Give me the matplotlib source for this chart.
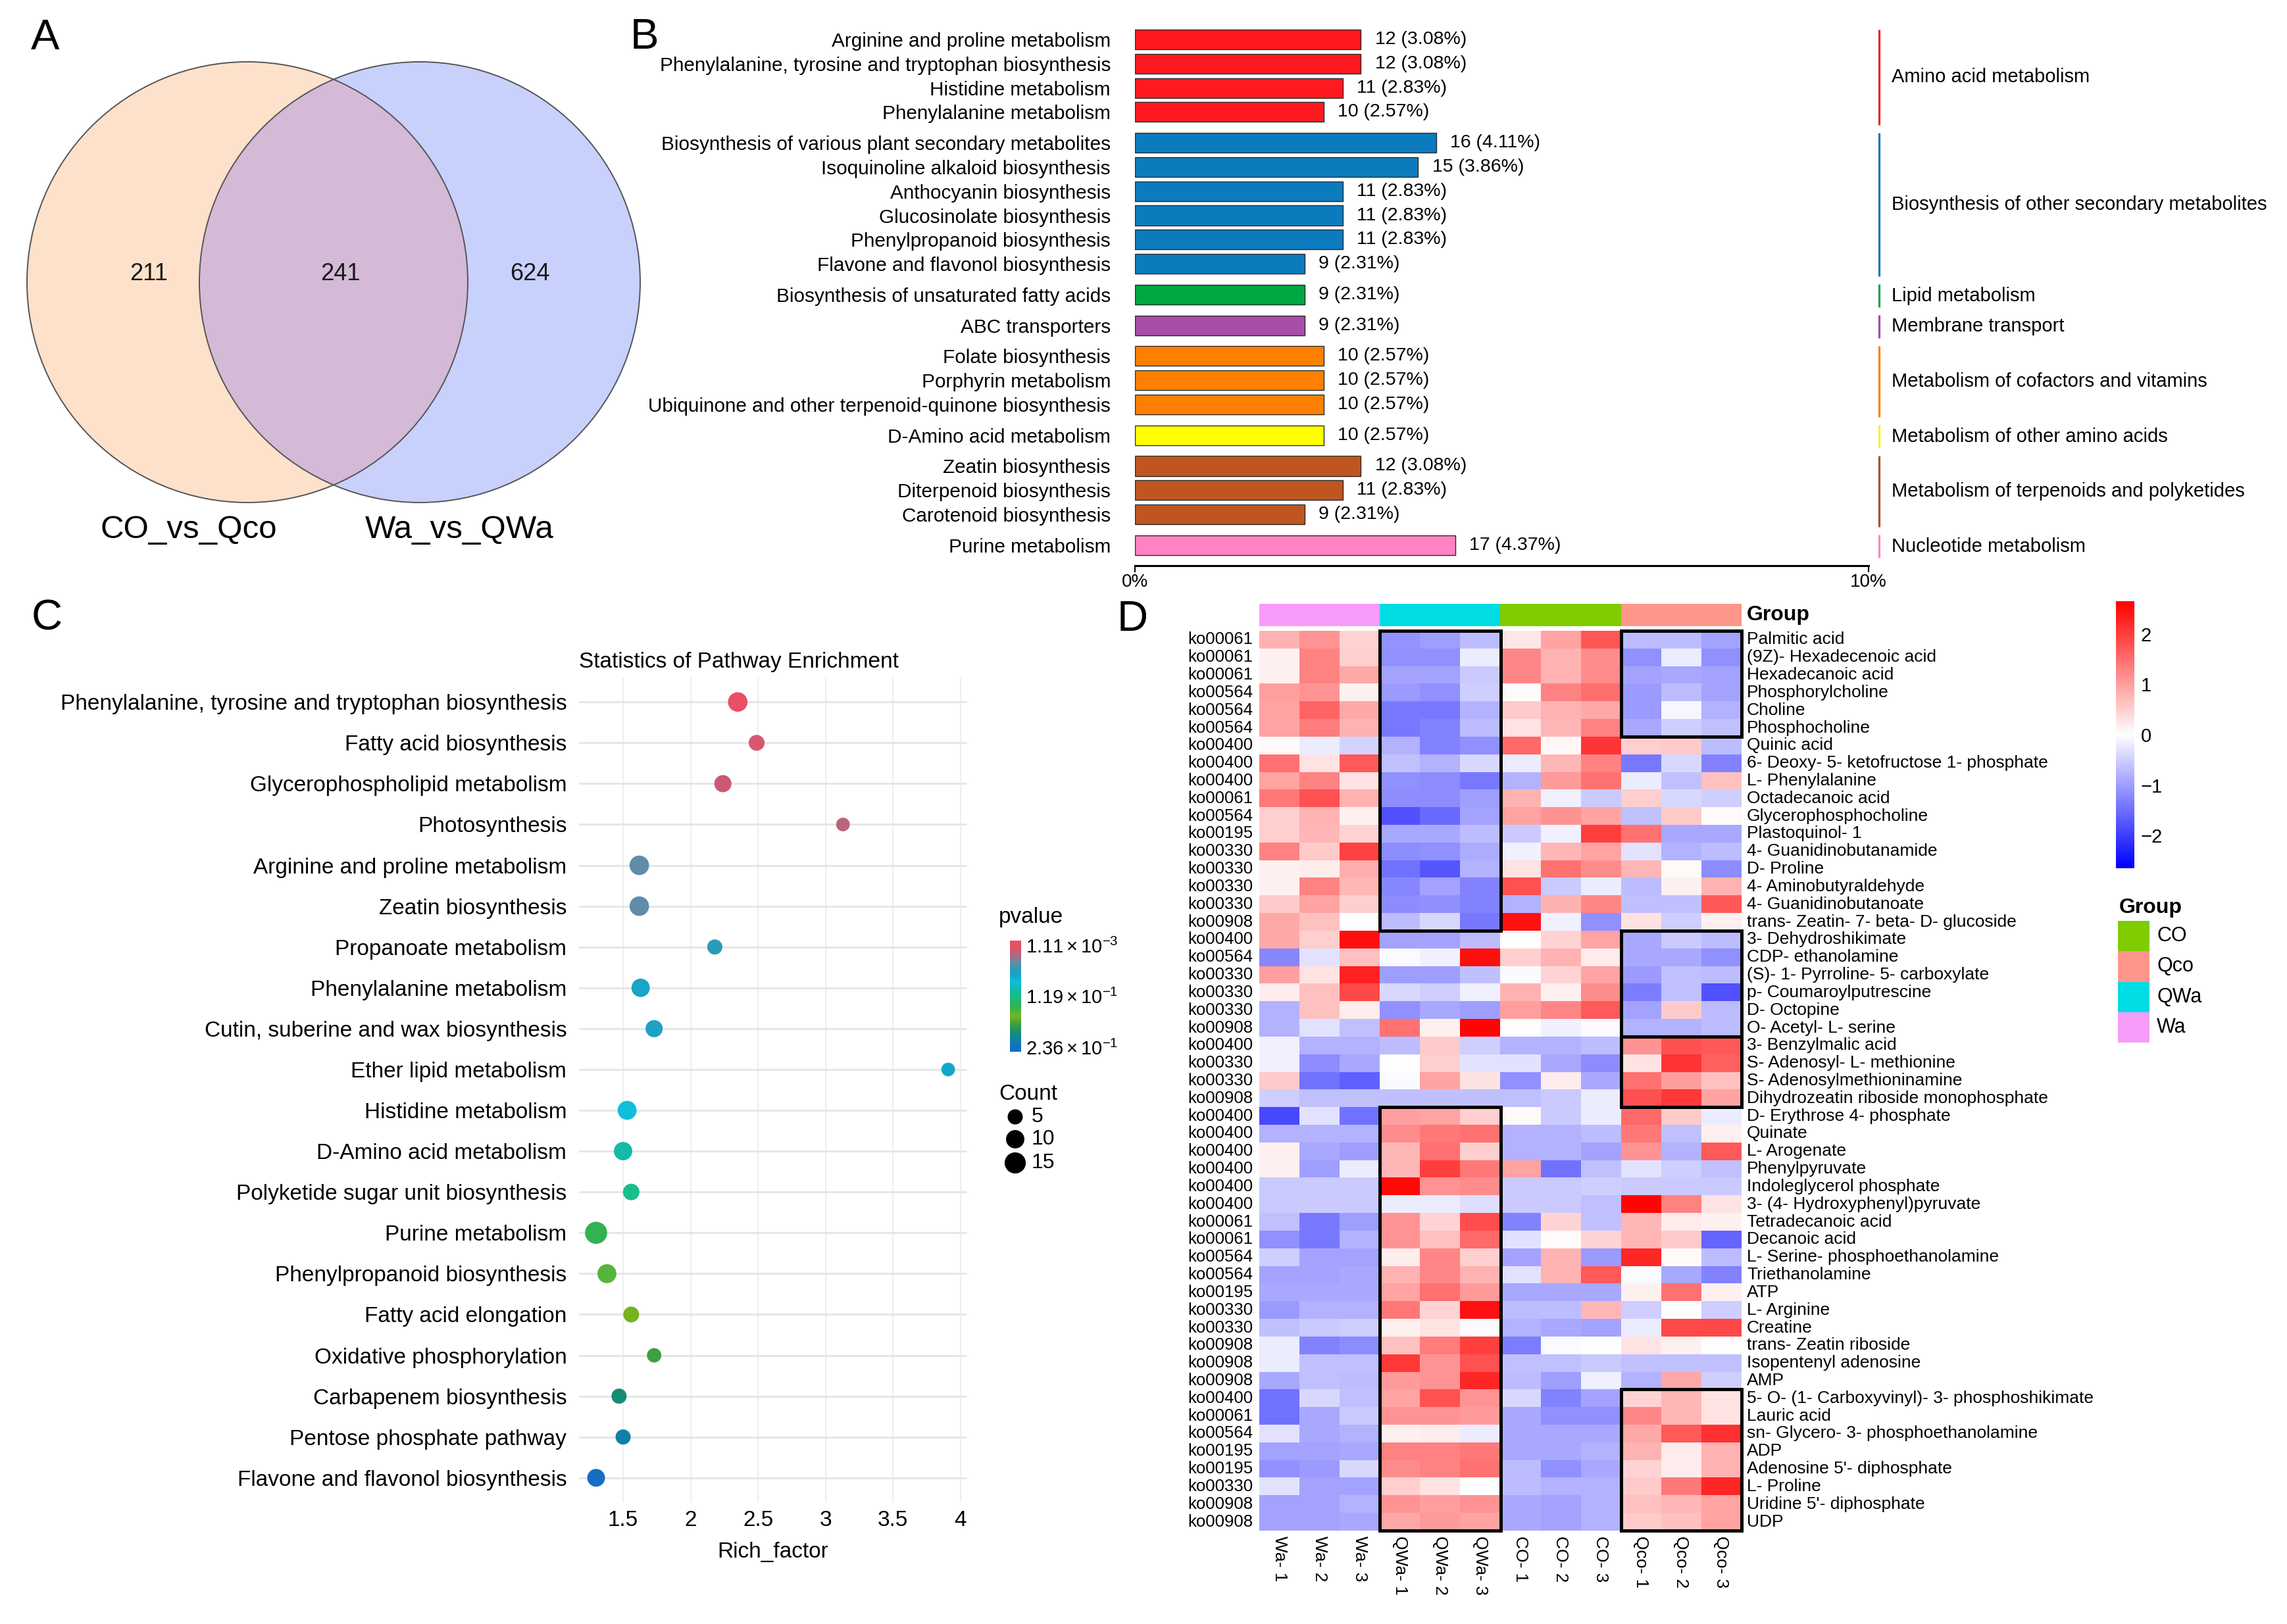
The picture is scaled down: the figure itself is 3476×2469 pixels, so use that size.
import numpy as np
import matplotlib
matplotlib.use("Agg")
import matplotlib.pyplot as plt
from matplotlib.patches import Circle, Rectangle
from matplotlib.colors import LinearSegmentedColormap, Normalize, to_rgb

plt.rcParams['font.family'] = ['Liberation Sans', 'DejaVu Sans']
plt.rcParams['mathtext.fontset'] = 'custom'
plt.rcParams['mathtext.rm'] = 'Liberation Sans'
plt.rcParams['mathtext.it'] = 'Liberation Sans:italic'
plt.rcParams['mathtext.bf'] = 'Liberation Sans:bold'

# ------------------------------------------------------------------ data
venn_sets = ["CO_vs_Qco", "Wa_vs_QWa"]
venn_counts = [211, 241, 624]  # only left, shared, only right

kegg_pathways = [
    "Arginine and proline metabolism",
    "Phenylalanine, tyrosine and tryptophan biosynthesis",
    "Histidine metabolism",
    "Phenylalanine metabolism",
    "Biosynthesis of various plant secondary metabolites",
    "Isoquinoline alkaloid biosynthesis",
    "Anthocyanin biosynthesis",
    "Glucosinolate biosynthesis",
    "Phenylpropanoid biosynthesis",
    "Flavone and flavonol biosynthesis",
    "Biosynthesis of unsaturated fatty acids",
    "ABC transporters",
    "Folate biosynthesis",
    "Porphyrin metabolism",
    "Ubiquinone and other terpenoid-quinone biosynthesis",
    "D-Amino acid metabolism",
    "Zeatin biosynthesis",
    "Diterpenoid biosynthesis",
    "Carotenoid biosynthesis",
    "Purine metabolism",
]
kegg_counts = [12, 12, 11, 10, 16, 15, 11, 11, 11, 9, 9, 9, 10, 10, 10, 10, 12, 11, 9, 17]
kegg_percent = [3.08, 3.08, 2.83, 2.57, 4.11, 3.86, 2.83, 2.83, 2.83, 2.31, 2.31, 2.31,
                2.57, 2.57, 2.57, 2.57, 3.08, 2.83, 2.31, 4.37]
kegg_classes = [
    "Amino acid metabolism",
    "Biosynthesis of other secondary metabolites",
    "Lipid metabolism",
    "Membrane transport",
    "Metabolism of cofactors and vitamins",
    "Metabolism of other amino acids",
    "Metabolism of terpenoids and polyketides",
    "Nucleotide metabolism",
]
kegg_class_sizes = [4, 6, 1, 1, 3, 1, 3, 1]

enrich_pathways = [
    "Phenylalanine, tyrosine and tryptophan biosynthesis",
    "Fatty acid biosynthesis",
    "Glycerophospholipid metabolism",
    "Photosynthesis",
    "Arginine and proline metabolism",
    "Zeatin biosynthesis",
    "Propanoate metabolism",
    "Phenylalanine metabolism",
    "Cutin, suberine and wax biosynthesis",
    "Ether lipid metabolism",
    "Histidine metabolism",
    "D-Amino acid metabolism",
    "Polyketide sugar unit biosynthesis",
    "Purine metabolism",
    "Phenylpropanoid biosynthesis",
    "Fatty acid elongation",
    "Oxidative phosphorylation",
    "Carbapenem biosynthesis",
    "Pentose phosphate pathway",
    "Flavone and flavonol biosynthesis",
]
enrich_rich = [2.35, 2.49, 2.24, 3.13, 1.62, 1.62, 2.18, 1.63, 1.73, 3.91,
               1.53, 1.50, 1.56, 1.30, 1.38, 1.56, 1.73, 1.47, 1.50, 1.30]
enrich_count = [12, 6, 8, 3, 12, 12, 5, 10, 8, 3, 11, 10, 7, 17, 11, 6, 4, 5, 5, 9]
enrich_pvalue = [0.00111, 0.0082, 0.0129, 0.0223, 0.0410, 0.0410, 0.0598, 0.0692, 0.0669, 0.0716,
                 0.0833, 0.1021, 0.1186, 0.1420, 0.1561, 0.1655, 0.1820, 0.2055, 0.2196, 0.236]

heat_samples = ["Wa- 1", "Wa- 2", "Wa- 3", "QWa- 1", "QWa- 2", "QWa- 3",
                "CO- 1", "CO- 2", "CO- 3", "Qco- 1", "Qco- 2", "Qco- 3"]
heat_groups = ["Wa"] * 3 + ["QWa"] * 3 + ["CO"] * 3 + ["Qco"] * 3
heat_ko = ["ko00061", "ko00061", "ko00061", "ko00564", "ko00564", "ko00564", "ko00400", "ko00400",
           "ko00400", "ko00061", "ko00564", "ko00195", "ko00330", "ko00330", "ko00330", "ko00330",
           "ko00908", "ko00400", "ko00564", "ko00330", "ko00330", "ko00330", "ko00908", "ko00400",
           "ko00330", "ko00330", "ko00908", "ko00400", "ko00400", "ko00400", "ko00400", "ko00400",
           "ko00400", "ko00061", "ko00061", "ko00564", "ko00564", "ko00195", "ko00330", "ko00330",
           "ko00908", "ko00908", "ko00908", "ko00400", "ko00061", "ko00564", "ko00195", "ko00195",
           "ko00330", "ko00908", "ko00908"]
heat_metabolites = [
    "Palmitic acid", "(9Z)- Hexadecenoic acid", "Hexadecanoic acid", "Phosphorylcholine",
    "Choline", "Phosphocholine", "Quinic acid", "6- Deoxy- 5- ketofructose 1- phosphate",
    "L- Phenylalanine", "Octadecanoic acid", "Glycerophosphocholine", "Plastoquinol- 1",
    "4- Guanidinobutanamide", "D- Proline", "4- Aminobutyraldehyde", "4- Guanidinobutanoate",
    "trans- Zeatin- 7- beta- D- glucoside", "3- Dehydroshikimate", "CDP- ethanolamine",
    "(S)- 1- Pyrroline- 5- carboxylate", "p- Coumaroylputrescine", "D- Octopine",
    "O- Acetyl- L- serine", "3- Benzylmalic acid", "S- Adenosyl- L- methionine",
    "S- Adenosylmethioninamine", "Dihydrozeatin riboside monophosphate", "D- Erythrose 4- phosphate",
    "Quinate", "L- Arogenate", "Phenylpyruvate", "Indoleglycerol phosphate",
    "3- (4- Hydroxyphenyl)pyruvate", "Tetradecanoic acid", "Decanoic acid",
    "L- Serine- phosphoethanolamine", "Triethanolamine", "ATP", "L- Arginine", "Creatine",
    "trans- Zeatin riboside", "Isopentenyl adenosine", "AMP",
    "5- O- (1- Carboxyvinyl)- 3- phosphoshikimate", "Lauric acid",
    "sn- Glycero- 3- phosphoethanolamine", "ADP", "Adenosine 5'- diphosphate", "L- Proline",
    "Uridine 5'- diphosphate", "UDP"]
heat_values = [
    [0.8, 1.1, 0.45, -1.1, -1.0, -0.7, 0.25, 0.95, 1.75, -0.7, -0.7, -0.95],
    [0.15, 1.3, 0.5, -1.15, -1.15, -0.2, 1.25, 0.8, 1.2, -1.15, -0.2, -1.15],
    [0.15, 1.3, 0.9, -0.95, -0.95, -0.55, 1.25, 0.8, 1.2, -0.95, -0.9, -0.95],
    [1.0, 1.1, 0.15, -1.05, -1.15, -0.5, 0.05, 1.3, 1.5, -1.05, -0.7, -0.95],
    [0.95, 1.6, 0.9, -1.4, -1.4, -0.8, 0.55, 0.8, 0.9, -1.05, -0.1, -0.8],
    [0.95, 1.35, 0.8, -1.4, -1.3, -0.7, 0.3, 0.75, 1.3, -0.9, -0.5, -0.65],
    [0.05, -0.2, -0.45, -0.8, -1.3, -1.15, 1.55, 0.1, 2.1, 0.5, 0.55, -0.7],
    [1.45, 0.3, 1.7, -0.65, -0.8, -0.4, -0.2, 0.75, 1.3, -1.4, -0.4, -1.3],
    [0.95, 1.3, 0.3, -1.15, -1.2, -1.4, -0.8, 1.05, 1.45, -0.2, -0.65, 0.65],
    [1.4, 1.8, 0.8, -1.2, -1.2, -1.0, 0.8, -0.15, -0.55, 0.5, -0.4, -0.5],
    [0.5, 0.8, 0.15, -1.8, -1.55, -0.95, 0.95, 1.1, 0.95, -0.65, 0.55, 0.05],
    [0.5, 0.75, 0.45, -0.9, -0.9, -0.7, -0.55, -0.15, 2.0, 1.45, -0.9, -0.9],
    [1.3, 0.55, 1.95, -1.2, -1.15, -0.85, -0.15, 0.75, 0.95, -0.3, -0.8, -0.7],
    [0.15, 0.2, 0.85, -1.45, -1.75, -0.8, 0.3, 1.45, 1.2, 0.75, 0.05, -1.2],
    [0.15, 1.3, 0.75, -1.25, -0.95, -1.3, 1.8, -0.55, -0.2, -0.7, 0.15, 0.8],
    [0.55, 0.95, 0.5, -1.2, -1.15, -1.3, -0.8, 0.8, 1.25, -0.65, -0.65, 1.7],
    [0.9, 0.65, 0.0, -0.7, -0.4, -1.4, 2.45, -0.15, -1.15, 0.3, -0.5, 0.15],
    [0.9, 0.5, 2.5, -0.95, -0.95, -0.7, 0.0, 0.45, 0.95, -0.9, -0.55, -0.7],
    [-1.25, -0.3, 0.65, -0.05, -0.15, 2.5, 0.5, 0.8, 0.2, -0.9, -0.9, -1.15],
    [1.0, 0.3, 2.3, -1.0, -1.0, -0.65, -0.05, 0.45, 0.95, -1.05, -0.65, -0.7],
    [0.2, 0.65, 1.9, -0.4, -0.5, -0.15, 0.8, 0.15, 1.2, -1.35, -0.65, -1.8],
    [-0.8, 0.65, 0.2, -1.15, -0.9, -1.0, 1.0, 1.25, 1.7, -0.95, 0.55, -0.7],
    [-0.8, -0.3, -0.65, 1.45, 0.15, 2.6, 0.0, -0.15, -0.05, -0.8, -0.8, -0.7],
    [-0.15, -0.8, -0.8, -0.7, 0.55, -0.5, -0.8, -0.8, -0.7, 1.1, 1.8, 1.7],
    [-0.15, -1.2, -0.9, 0.0, 0.5, -0.3, -0.3, -0.9, -1.2, 0.3, 2.1, 1.65],
    [0.55, -1.45, -1.65, -0.05, 0.95, 0.3, -1.15, 0.2, -0.9, 1.45, 1.0, 0.65],
    [-0.5, -0.65, -0.65, -0.65, -0.65, -0.65, -0.65, -0.55, -0.2, 1.8, 2.05, 0.95],
    [-1.9, -0.3, -1.45, 1.0, 0.95, 0.5, 0.05, -0.55, -0.2, 1.55, 0.55, -0.2],
    [-0.8, -0.8, -0.8, 1.2, 1.4, 1.45, -0.8, -0.8, -0.7, 1.4, -0.65, 0.15],
    [0.15, -0.9, -1.0, 0.75, 1.45, 0.5, -0.8, -0.8, -0.95, 1.1, -0.8, 1.7],
    [0.15, -1.0, -0.2, 0.75, 2.0, 1.4, 0.95, -1.45, -0.65, -0.3, -0.5, -0.65],
    [-0.55, -0.55, -0.55, 2.55, 1.1, 1.2, -0.55, -0.55, -0.5, -0.55, -0.55, -0.55],
    [-0.55, -0.55, -0.55, -0.2, -0.2, -0.35, -0.55, -0.55, -0.65, 2.6, 1.3, 0.3],
    [-0.65, -1.4, -1.0, 1.1, 0.45, 1.85, -1.3, 0.45, -0.65, 0.75, 0.2, 0.15],
    [-1.15, -1.4, -0.8, 1.1, 0.65, 1.55, -0.3, 0.05, 0.45, 0.75, 0.55, -1.6],
    [-0.5, -0.95, -0.95, 0.2, 1.25, 0.5, -0.95, 0.8, -1.05, 2.25, 0.05, -0.7],
    [-0.95, -0.95, -0.9, 0.8, 1.25, 0.8, -0.3, 0.8, 1.7, -0.05, -0.9, -1.3],
    [-0.9, -0.9, -0.9, 0.95, 1.45, 1.05, -0.9, -0.9, -0.9, 0.15, 1.45, 0.15],
    [-1.05, -0.8, -0.8, 1.4, 0.45, 2.45, -0.7, -0.7, 0.75, -0.5, 0.0, -0.5],
    [-0.65, -0.55, -0.5, 0.15, 0.3, -0.05, -0.8, -0.9, -0.95, -0.2, 1.9, 1.9],
    [-0.2, -1.3, -1.2, 0.65, 1.35, 2.0, -1.35, -0.05, 0.0, 0.3, 0.15, 0.0],
    [-0.2, -0.65, -0.65, 2.05, 1.1, 1.8, -0.65, -0.65, -0.55, -0.65, -0.65, -0.65],
    [-0.9, -0.65, -0.7, 1.05, 1.1, 2.25, -0.7, -1.0, -0.15, -0.8, 0.9, -0.5],
    [-1.45, -0.4, -0.65, 0.95, 1.8, 1.1, -0.4, -1.3, -0.95, 0.45, 0.75, 0.3],
    [-1.45, -0.9, -0.55, 1.1, 1.1, 1.05, -0.9, -1.15, -1.15, 1.25, 0.75, 0.3],
    [-0.3, -0.9, -0.8, 0.15, 0.2, -0.2, -0.9, -0.9, -0.9, 0.9, 1.7, 2.15],
    [-0.95, -0.95, -0.9, 1.3, 1.3, 1.4, -0.9, -0.9, -0.8, 0.8, 0.2, 0.8],
    [-1.15, -1.05, -0.4, 1.2, 1.3, 1.45, -0.7, -1.15, -0.9, 0.45, 0.2, 0.8],
    [-0.3, -0.95, -0.95, 0.5, 0.3, 0.0, -0.7, -0.8, -0.8, 0.55, 1.4, 2.25],
    [-0.95, -0.95, -0.8, 1.1, 1.0, 1.1, -0.9, -0.95, -0.8, 0.65, 0.75, 0.95],
    [-0.95, -0.95, -0.9, 0.9, 1.05, 0.95, -0.9, -0.95, -0.8, 0.55, 0.65, 0.95],
]
# highlighted blocks: (first row, last row, first column, last column)
heat_boxes = [(0, 16, 3, 5), (0, 5, 9, 11), (17, 22, 9, 11), (23, 26, 9, 11),
              (27, 50, 3, 5), (43, 50, 9, 11)]

# ------------------------------------------------------------------ figure
W, H = 3476, 2469
fig = plt.figure(figsize=(W / 100, H / 100), dpi=100)


def px_axes(x0, y0, x1, y1):
    return fig.add_axes([x0 / W, 1 - y1 / H, (x1 - x0) / W, (y1 - y0) / H])


# ---------------------------------------------------------------- panel B
bar_colors = ['#FF1A1F', '#0C7BBD', '#00A841', '#A84DA8', '#FF7F00', '#FFFF00', '#C0561F', '#FF82C2']
line_colors = ['#E8262D', '#1F78B4', '#1FA04C', '#9B4FA5', '#FF8000', '#F2F230', '#A65628', '#F788C0']
gid = np.repeat(np.arange(len(kegg_class_sizes)), kegg_class_sizes)
ypos = np.arange(len(kegg_pathways)) + 0.27 * gid
row_px = 36.8
axB = px_axes(1725, 40, 2840, 860)
axB.barh(ypos, kegg_percent, height=0.82, color=[bar_colors[g] for g in gid],
         edgecolor='#2b2b2b', linewidth=1.0)
axB.set_xlim(0, 10)
axB.set_ylim((860 - 60) / row_px, -(60 - 40) / row_px)
for sp in ['top', 'right', 'left']:
    axB.spines[sp].set_visible(False)
axB.spines['bottom'].set_linewidth(2.2)
axB.set_xticks([0, 10])
axB.set_xticklabels(['0%', '10%'])
axB.tick_params(axis='x', length=7, width=1.5, labelsize=20, pad=2)
axB.set_yticks(ypos)
axB.set_yticklabels(kegg_pathways)
axB.tick_params(axis='y', length=0, pad=26.6, labelsize=21.4)
for y, c, p in zip(ypos, kegg_counts, kegg_percent):
    axB.text(p + 0.19, y, f"{c} ({p:.2f}%)", va='center', ha='left', fontsize=20.5)
for g, name in enumerate(kegg_classes):
    rows = ypos[gid == g]
    axB.plot([10.14, 10.14], [rows.min() - 0.42, rows.max() + 0.52], color=line_colors[g],
             lw=2.3, clip_on=False, solid_capstyle='butt')
    axB.text(10.31, (rows.min() + rows.max()) / 2 + 0.05, name, va='center', ha='left', fontsize=21)

# ---------------------------------------------------------------- panel C
cmapC = LinearSegmentedColormap.from_list('pv', [
    (0.00, '#E85064'), (0.03, '#D8586E'), (0.05, '#C85A73'), (0.09, '#B8667D'),
    (0.17, '#5E8EA8'), (0.25, '#289BB9'), (0.30, '#14A8CC'), (0.35, '#10BEDC'),
    (0.43, '#14B9AA'), (0.50, '#16C08C'), (0.60, '#32B250'), (0.66, '#58B43C'),
    (0.70, '#78B41E'), (0.77, '#40A040'), (0.87, '#148C78'), (0.93, '#1080A8'),
    (1.00, '#146EC3')])
pmin, pmax = min(enrich_pvalue), max(enrich_pvalue)
normC = Normalize(pmin, pmax)


def dot_size(count):
    return (0.72 * np.sqrt(280 + 50 * np.asarray(count, dtype=float))) ** 2


axC = px_axes(880, 1030, 1469, 2284)
yC = np.arange(len(enrich_pathways))
axC.set_xlim(1.173, 4.046)
axC.set_ylim(len(enrich_pathways) - 0.4, -0.6)
for sp in axC.spines.values():
    sp.set_visible(False)
axC.set_axisbelow(True)
axC.grid(axis='y', color='#E5E5E5', lw=2.0)
axC.grid(axis='x', color='#EDEDED', lw=1.3)
axC.scatter(enrich_rich, yC, s=dot_size(enrich_count), c=enrich_pvalue, cmap=cmapC, norm=normC,
            linewidths=0, zorder=3)
xt = [1.5, 2, 2.5, 3, 3.5, 4]
axC.set_xticks(xt)
axC.set_xticklabels([f"{v:g}" for v in xt])
axC.set_yticks(yC)
axC.set_yticklabels(enrich_pathways)
axC.tick_params(axis='y', length=0, labelsize=24, pad=13.5)
axC.tick_params(axis='x', length=0, labelsize=24, pad=9)
axC.set_xlabel('Rich_factor', fontsize=24, labelpad=12)

# p-value colorbar
ext = 7 / 155 * (pmax - pmin)
axCb = px_axes(1535, 1430, 1552, 1599)
axCb.imshow(np.linspace(pmin - ext, pmax + ext, 256).reshape(-1, 1), cmap=cmapC, norm=normC,
            aspect='auto', extent=[0, 1, pmax + ext, pmin - ext], interpolation='bilinear')
axCb.set_ylim(pmax + ext, pmin - ext)
axCb.set_xticks([])
pmid = (pmin + pmax) / 2


def sci(v):
    e = int(np.floor(np.log10(v)))
    m = v / 10 ** e
    return f"${m:.2f}\\times10^{{{e}}}$"


axCb.yaxis.tick_right()
axCb.set_yticks([pmin, pmid, pmax])
axCb.set_yticklabels([sci(v) for v in (pmin, pmid, pmax)])
axCb.tick_params(axis='y', length=0, pad=5, labelsize=21)
for sp in axCb.spines.values():
    sp.set_visible(False)

# ---------------------------------------------------------------- panel D
vals = np.array(heat_values)
nr, nc = vals.shape
cmapD = LinearSegmentedColormap.from_list('bwr2', ['#0000FF', '#FFFFFF', '#FF0000'])
vlim = 2.65
axH = px_axes(1914, 959, 2647, 2327)
axH.imshow(vals, cmap=cmapD, vmin=-vlim, vmax=vlim, aspect='auto', interpolation='nearest')
axH.set_xlim(-0.5, nc - 0.5)
axH.set_ylim(nr - 0.5, -0.5)
axH.axis('off')
col_px = (2647 - 1914) / nc
cell_px = (2327 - 959) / nr
for i in range(nr):
    axH.text(-0.5 - 10 / col_px, i, heat_ko[i], ha='right', va='center', fontsize=18.5)
    axH.text(nc - 0.5 + 8 / col_px, i, heat_metabolites[i], ha='left', va='center', fontsize=19)
for j in range(nc):
    axH.text(j, nr - 0.5 + 8 / cell_px, heat_samples[j], rotation=270, ha='center', va='top',
             fontsize=19)
for r0, r1, c0, c1 in heat_boxes:
    axH.add_patch(Rectangle((c0 - 0.5, r0 - 0.5), c1 - c0 + 1, r1 - r0 + 1, fill=False,
                            edgecolor='black', lw=3.6, clip_on=False, zorder=5))

group_colors = {'CO': '#7FCC00', 'Qco': '#FF968A', 'QWa': '#00DCE4', 'Wa': '#F79CF9'}
axA = px_axes(1914, 918, 2647, 952)
axA.imshow(np.array([[to_rgb(group_colors[g]) for g in heat_groups]]), aspect='auto',
           interpolation='nearest')
axA.axis('off')

axHb = px_axes(3216, 914, 3244, 1320)
axHb.imshow(np.linspace(vlim, -vlim, 256).reshape(-1, 1), cmap=cmapD, vmin=-vlim, vmax=vlim,
            aspect='auto', extent=[0, 1, -vlim, vlim], interpolation='bilinear')
axHb.set_ylim(-vlim, vlim)
axHb.set_xticks([])
axHb.yaxis.tick_right()
axHb.set_yticks([-2, -1, 0, 1, 2])
axHb.set_yticklabels(['\u22122', '\u22121', '0', '1', '2'])
axHb.tick_params(axis='y', length=0, pad=7, labelsize=21)
for sp in axHb.spines.values():
    sp.set_visible(False)

# ---------------------------------------------------------------- overlay (pixel coords)
ov = fig.add_axes([0, 0, 1, 1])
ov.set_xlim(0, W)
ov.set_ylim(H, 0)
ov.axis('off')

# panel A: Venn
cl, cr, rad, cy = 376, 638, 335, 429
left_c = Circle((cl, cy), rad, facecolor='#FDE1CB', edgecolor='none')
right_c = Circle((cr, cy), rad, facecolor='#C8D0FC', edgecolor='none')
ov.add_patch(left_c)
ov.add_patch(right_c)
inter = Circle((cl, cy), rad, facecolor='#D4BAD6', edgecolor='none')
ov.add_patch(inter)
inter.set_clip_path(right_c)
ov.add_patch(Circle((cl, cy), rad, fill=False, edgecolor='#555555', lw=1.4))
ov.add_patch(Circle((cr, cy), rad, fill=False, edgecolor='#555555', lw=1.4))
for x, v in zip([226, 517, 805], venn_counts):
    ov.text(x, 417, str(v), ha='center', va='center', fontsize=26, color='#1a1a1a')
ov.text(287, 806, venn_sets[0], ha='center', va='center', fontsize=35.5)
ov.text(698, 806, venn_sets[1], ha='center', va='center', fontsize=35.5)

# panel letters
for lab, (x, y) in zip("ABCD", [(69, 58), (979, 57), (71, 940), (1721, 942)]):
    ov.text(x, y, lab, ha='center', va='center', fontsize=47)

# panel C title and legends
ov.text(880, 1007, 'Statistics of Pathway Enrichment', ha='left', va='center', fontsize=24)
ov.text(1518, 1395, 'pvalue', ha='left', va='center', fontsize=24)
ov.text(1518, 1663, 'Count', ha='left', va='center', fontsize=24)
leg_counts = [5, 10, 15]
leg_y = [1698, 1732, 1768]
ov.scatter([1543] * 3, leg_y, s=dot_size(leg_counts), color='black', linewidths=0)
for yy, c in zip(leg_y, leg_counts):
    ov.text(1568, yy, str(c), ha='left', va='center', fontsize=23)

# panel D group label & legend
ov.text(2655, 935, 'Group', ha='left', va='center', fontsize=23, fontweight='bold')
ov.text(3221, 1380, 'Group', ha='left', va='center', fontsize=23, fontweight='bold')
for k, g in enumerate(['CO', 'Qco', 'QWa', 'Wa']):
    y0 = 1400 + 46.3 * k
    ov.add_patch(Rectangle((3219, y0), 48, 46.3, facecolor=group_colors[g], edgecolor='none'))
    ov.text(3278, y0 + 23, g, ha='left', va='center', fontsize=22)

fig.savefig('out.png', dpi=100)
